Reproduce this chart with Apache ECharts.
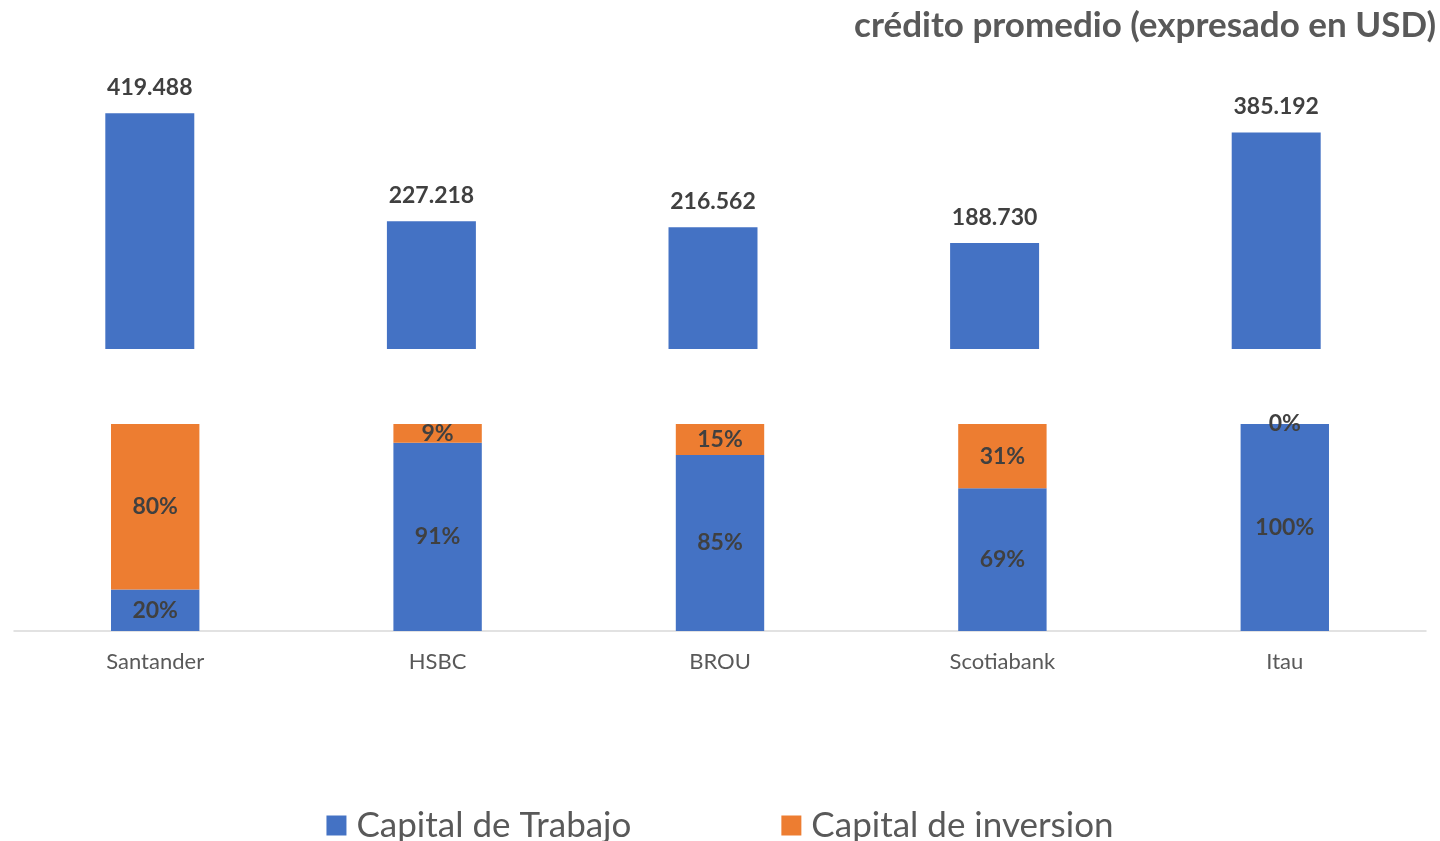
<!DOCTYPE html>
<html><head><meta charset="utf-8">
<script src="https://cdn.jsdelivr.net/npm/echarts@6/dist/echarts.min.js"></script>
<style>html,body{margin:0;padding:0;background:#fff}#c{width:1440px;height:841px}</style>
</head><body><div id="c"></div>
<script>
const categories = ['Santander', 'HSBC', 'BROU', 'Scotiabank', 'Itau'];
const creditoPromedio = [419488, 227218, 216562, 188730, 385192];
const capitalTrabajo = [20, 91, 85, 69, 100];
const capitalInversion = [80, 9, 15, 31, 0];
const titleText = 'crédito promedio (expresado en USD)';

const FONT = 'Lato';
const fmt = v => String(v).replace(/\B(?=(\d{3})+(?!\d))/g, '.');

const chart = echarts.init(document.getElementById('c'));
chart.setOption({
  animation: false,
  textStyle: { fontFamily: FONT },
  title: {
    text: titleText, right: 4, top: 8, padding: 0,
    textStyle: { fontFamily: FONT, fontSize: 35, fontWeight: 'bold', color: '#595959' }
  },
  legend: {
    top: 803, left: 'center', itemWidth: 20, itemHeight: 20, itemGap: 150,
    icon: 'rect',
    textStyle: { fontFamily: FONT, fontSize: 35, color: '#595959', padding: [0, 0, 0, 5] },
    data: ['Capital de Trabajo', 'Capital de inversion']
  },
  grid: [
    { left: 9, right: 23, top: 96, height: 253 },
    { left: 14, right: 14, top: 424, height: 207 }
  ],
  xAxis: [
    { type: 'category', gridIndex: 0, data: categories, axisLine: { show: false }, axisTick: { show: false }, axisLabel: { show: false } },
    { type: 'category', gridIndex: 1, data: categories,
      axisLine: { lineStyle: { color: '#d9d9d9', width: 1.5 } }, axisTick: { show: false },
      axisLabel: { fontFamily: FONT, fontSize: 22, color: '#595959', margin: 20 } }
  ],
  yAxis: [
    { type: 'value', gridIndex: 0, min: 0, max: 450000, show: false, splitLine: { show: false } },
    { type: 'value', gridIndex: 1, min: 0, max: 100, show: false, splitLine: { show: false } }
  ],
  series: [
    { name: 'Crédito promedio', type: 'bar', xAxisIndex: 0, yAxisIndex: 0, data: creditoPromedio,
      barWidth: '31.6%', itemStyle: { color: '#4472C4' },
      label: { show: true, position: 'top', distance: 14, formatter: p => fmt(p.value),
        fontFamily: FONT, fontSize: 23, fontWeight: 'bold', color: '#404040' } },
    { name: 'Capital de Trabajo', type: 'bar', stack: 'p', xAxisIndex: 1, yAxisIndex: 1, data: capitalTrabajo,
      barWidth: '31.3%', itemStyle: { color: '#4472C4' },
      label: { show: true, position: 'inside', formatter: '{c}%', fontFamily: FONT, fontSize: 23, fontWeight: 'bold', color: '#404040' } },
    { name: 'Capital de inversion', type: 'bar', stack: 'p', xAxisIndex: 1, yAxisIndex: 1, data: capitalInversion,
      barWidth: '31.3%', itemStyle: { color: '#ED7D31' },
      label: { show: true, position: 'inside', formatter: '{c}%', fontFamily: FONT, fontSize: 23, fontWeight: 'bold', color: '#404040' } }
  ]
});
</script></body></html>
